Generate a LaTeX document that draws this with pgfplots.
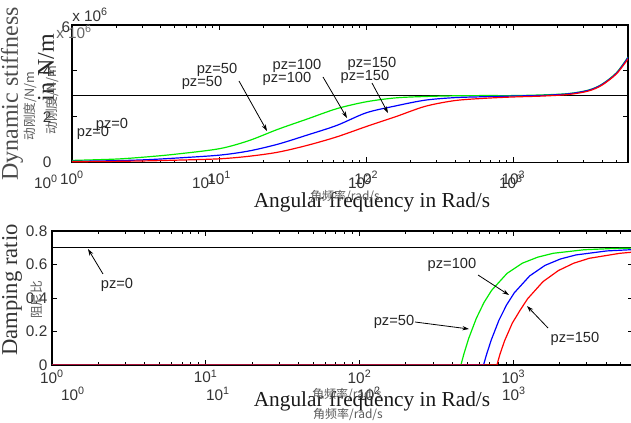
\documentclass[border=0pt]{standalone}
\usepackage{pgfplots}
\pgfplotsset{compat=1.18}
\usepackage{fontspec}
\setmainfont{Liberation Serif}
\setsansfont{Liberation Sans}
\newfontfamily\cjk{Noto Sans CJK SC}
\usetikzlibrary{arrows.meta}
\definecolor{cgreen}{RGB}{0,235,0}
\definecolor{cblue}{RGB}{0,0,255}
\definecolor{cred}{RGB}{255,0,0}
\definecolor{lblgray}{RGB}{90,90,90}

\pgfplotstableread{
w   g     b     r
1      0.09  0.05  0.03
2      0.15  0.08  0.05
3.16   0.24  0.12  0.07
5.01   0.36  0.19  0.10
10     0.60  0.32  0.16
15.85  0.95  0.50  0.27
25.1   1.45  0.80  0.45
39.8   1.90  1.20  0.75
63.1   2.35  1.62  1.12
100    2.65  2.17  1.57
158.5  2.82  2.47  2.00
251    2.88  2.72  2.45
398    2.91  2.83  2.70
631    2.92  2.87  2.80
1000   2.92  2.90  2.86
1585   2.95  2.93  2.90
2388   3.01  3.00  2.97
3236   3.16  3.15  3.12
3981   3.41  3.40  3.37
5012   3.92  3.90  3.87
6000   4.60  4.58  4.52
}\stiff

\begin{document}
\begin{tikzpicture}
\path[use as bounding box] (0,0) rectangle (473.25pt,-317.25pt);

% ---------- top: dynamic stiffness ----------
\begin{axis}[at={(54pt,-121.875pt)}, anchor=south west,
  scale only axis, width=417pt, height=103.125pt,
  xmode=log, log basis x=10, xmin=1, xmax=6000,
  axis line style={black, line width=0.9pt},
  tick style={black, line width=0.6pt},
  major tick length=4pt, minor tick length=2.2pt,
  tick align=inside,
  xtick={1,10,100,1000},
  minor xtick={2,3,4,5,6,7,8,9,20,30,40,50,60,70,80,90,200,300,400,500,600,700,800,900,2000,3000,4000,5000},
  xticklabels={{10\textsuperscript{0}},{10\textsuperscript{1}},{10\textsuperscript{2}},{10\textsuperscript{3}}},
  ticklabel style={font=\sffamily\fontsize{11.5}{12}\selectfont, text=black!80},
  ymin=0, ymax=6, ytick={0,2,4,6}, yticklabels={0,2,4,{}},
  yticklabel style={xshift=-12pt}, xticklabel style={yshift=-3pt}]
\addplot[black, line width=0.8pt] coordinates {(1,2.92) (6000,2.92)};
\addplot[cgreen, line width=0.9pt, smooth] table[x=w,y=g] {\stiff};
\addplot[cblue, line width=0.9pt, smooth] table[x=w,y=b] {\stiff};
\addplot[cred, line width=0.9pt, smooth] table[x=w,y=r] {\stiff};
\end{axis}

% ---------- bottom: damping ratio ----------
\begin{axis}[at={(39pt,-273.75pt)}, anchor=south west,
  scale only axis, width=435.75pt, height=100.5pt,
  xmode=log, log basis x=10, xmin=1, xmax=6000,
  axis line style={black, line width=0.9pt},
  tick style={black, line width=0.6pt},
  major tick length=4pt, minor tick length=2.2pt,
  tick align=inside,
  xtick={1,10,100,1000},
  minor xtick={2,3,4,5,6,7,8,9,20,30,40,50,60,70,80,90,200,300,400,500,600,700,800,900,2000,3000,4000,5000},
  xticklabels={{10\textsuperscript{0}},{10\textsuperscript{1}},{10\textsuperscript{2}},{10\textsuperscript{3}}},
  ticklabel style={font=\sffamily\fontsize{11.5}{12}\selectfont, text=black!80},
  ymin=0, ymax=0.8, ytick={0,0.2,0.4,0.6,0.8},
  yticklabels={0,0.2,0.4,0.6,0.8}]
\addplot[black, line width=0.8pt] coordinates {(1,0.7) (6000,0.7)};
\addplot[cgreen, line width=0.9pt] coordinates {(1,0) (456,0) (477.5,0.0675) (511.6,0.157) (574.1,0.278) (644.1,0.373) (722.7,0.446) (909.8,0.547) (1145,0.608) (1442,0.644) (1815,0.667) (2877,0.688) (4560,0.696) (6000,0.698)};
\addplot[cblue, line width=0.9pt] coordinates {(1,0) (640,0) (670.2,0.064) (718.1,0.149) (805.7,0.267) (904.0,0.359) (1014.3,0.431) (1277,0.532) (1608,0.595) (2024,0.633) (2548,0.657) (4038,0.681) (6000,0.689)};
\addplot[cred, line width=0.9pt] coordinates {(1,0) (782,0) (818.8,0.065) (877.4,0.145) (984.5,0.25) (1104.6,0.326) (1239.4,0.396) (1560,0.498) (1964,0.564) (2473,0.608) (3113,0.637) (4934,0.667) (6000,0.674)};
\end{axis}

\begin{scope}[x=0.75pt,y=-0.75pt]
\tikzset{pz/.style={font=\sffamily\fontsize{11}{11}\selectfont, text=black!85, inner sep=0pt},
  arr/.style={-{Stealth[length=5pt,width=3.2pt]}, line width=0.6pt, black}}
% top annotations
\node[pz] at (217,70) {pz=50};
\node[pz] at (202,83) {pz=50};
\draw[arr] (239,81) -- (267,131);
\node[pz] at (297,66) {pz=100};
\node[pz] at (287,79) {pz=100};
\draw[arr] (323,77) -- (347,118);
\node[pz] at (372,64) {pz=150};
\node[pz] at (365,77) {pz=150};
\draw[arr] (372,83) -- (388,113);
\node[pz] at (112,125) {pz=0};
\node[pz] at (93,133) {pz=0};
% bottom annotations
\node[pz] at (117,285) {pz=0};
\draw[arr] (103,274) -- (88,249);
\node[pz] at (452,265) {pz=100};
\draw[arr] (478,275) -- (509,295);
\node[pz] at (394,322) {pz=50};
\draw[arr] (415,322) -- (469,329);
\node[pz] at (575,339) {pz=150};
\draw[arr] (548,328) -- (527,306);

% tick label extras
\tikzset{tl/.style={font=\sffamily\fontsize{11.5}{12}\selectfont, text=black!80, inner sep=0pt}}
\node[tl] at (66,27) {6};
\node[tl, anchor=west] at (72,15) {x 10\textsuperscript{6}};
\node[tl, anchor=west, text=black!60] at (56,32) {x 10\textsuperscript{6}};
\node[tl] at (46,182) {10\textsuperscript{0}};
\node[tl] at (204,182) {10\textsuperscript{1}};
\node[tl] at (360,182) {10\textsuperscript{2}};
\node[tl] at (511,182) {10\textsuperscript{3}};
\node[tl] at (73,394) {10\textsuperscript{0}};
\node[tl] at (218,394) {10\textsuperscript{1}};
\node[tl] at (369,394) {10\textsuperscript{2}};
\node[tl] at (514,394) {10\textsuperscript{3}};

% axis titles
\node[rotate=90, font=\fontsize{18}{18}\selectfont, text=black!70, inner sep=0pt] at (12,94) {Dynamic stiffness};
\node[rotate=90, font=\fontsize{18}{18}\selectfont, text=black!85, inner sep=0pt] at (46,68) {in N/m};
\node[rotate=90, font=\cjk\fontsize{9.5}{10}\selectfont, text=lblgray, inner sep=0pt] at (30,106) {动刚度/N/m};
\node[rotate=90, font=\cjk\fontsize{9.5}{10}\selectfont, text=lblgray, inner sep=0pt] at (52,100) {动刚度/N/m};
\node[font=\fontsize{16}{16}\selectfont, text=black!90, inner sep=0pt] at (372,202) {Angular frequency in Rad/s};
\node[font=\cjk\fontsize{9}{9}\selectfont, text=lblgray, inner sep=0pt] at (345,196) {角频率/rad/s};

\node[rotate=90, font=\fontsize{17}{17}\selectfont, text=black!80, inner sep=0pt] at (12,290) {Damping ratio};
\node[rotate=90, font=\cjk\fontsize{9.5}{10}\selectfont, text=lblgray, inner sep=0pt] at (37,300) {阻尼比};
\node[font=\fontsize{16}{16}\selectfont, text=black!90, inner sep=0pt] at (372,401) {Angular frequency in Rad/s};
\node[font=\cjk\fontsize{9}{9}\selectfont, text=lblgray, inner sep=0pt] at (347,394) {角频率/rad/s};
\node[font=\cjk\fontsize{9}{9}\selectfont, text=lblgray, inner sep=0pt] at (348,414) {角频率/rad/s};
\end{scope}
\end{tikzpicture}
\end{document}
